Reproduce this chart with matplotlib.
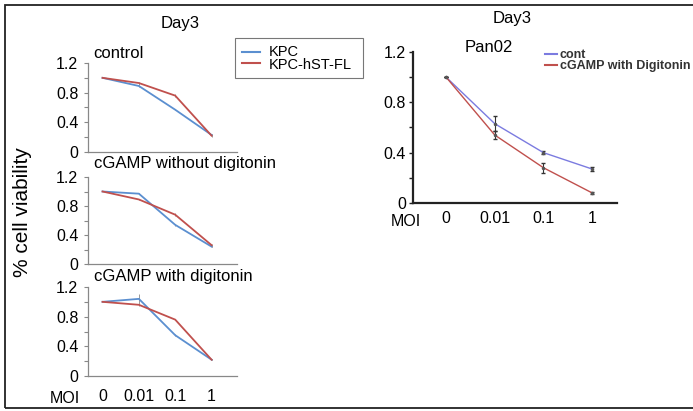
import matplotlib
matplotlib.use("Agg")
import matplotlib.pyplot as plt
from matplotlib.patches import Rectangle
from matplotlib.lines import Line2D

plt.rcParams['font.family'] = ['Liberation Sans', 'DejaVu Sans']

# data
moi = ["0", "0.01", "0.1", "1"]
control_kpc = [1.0, 0.89, 0.57, 0.23]
control_hst = [1.0, 0.93, 0.76, 0.22]
control_kpc_err = [0.0, 0.01, 0.01, 0.01]
control_hst_err = [0.0, 0.02, 0.02, 0.02]
nodig_kpc = [1.0, 0.97, 0.54, 0.24]
nodig_hst = [1.0, 0.89, 0.68, 0.26]
nodig_kpc_err = [0.0, 0.01, 0.01, 0.01]
nodig_hst_err = [0.0, 0.01, 0.02, 0.02]
dig_kpc = [1.0, 1.04, 0.55, 0.22]
dig_hst = [1.0, 0.96, 0.76, 0.22]
dig_kpc_err = [0.0, 0.07, 0.01, 0.01]
dig_hst_err = [0.0, 0.01, 0.01, 0.01]
pan_cont = [1.0, 0.63, 0.40, 0.27]
pan_cont_err = [0.0, 0.06, 0.01, 0.015]
pan_dig = [1.0, 0.54, 0.28, 0.08]
pan_dig_err = [0.0, 0.03, 0.04, 0.005]

W, H = 693, 411
BLUE = '#5b8fd0'
RED = '#c0504d'
LAV = '#7b7be0'


def px(x0, y0, x1, y1):
    return [x0 / W, 1 - y1 / H, (x1 - x0) / W, (y1 - y0) / H]


def fx(x):
    return x / W


def fy(y):
    return 1 - y / H


fig = plt.figure(figsize=(W / 100, H / 100), dpi=100)

# outer frame
fig.add_artist(Rectangle((fx(5), fy(408)), 1.0, fy(5) - fy(408), transform=fig.transFigure,
                         fill=False, edgecolor='#222222', lw=1.3))

xs = list(range(len(moi)))
panels = [
    (63, 152, control_kpc, control_kpc_err, control_hst, control_hst_err),
    (177, 264, nodig_kpc, nodig_kpc_err, nodig_hst, nodig_hst_err),
    (287, 376, dig_kpc, dig_kpc_err, dig_hst, dig_hst_err),
]
for i, (top, bot, kpc, kpc_e, hst, hst_e) in enumerate(panels):
    ax = fig.add_axes(px(88, top, 237, bot))
    ax.errorbar(xs, kpc, yerr=kpc_e, color=BLUE, lw=1.3, ecolor='#999999', elinewidth=0.7, capsize=0)
    ax.errorbar(xs, hst, yerr=hst_e, color=RED, lw=1.3, ecolor='#999999', elinewidth=0.7, capsize=0)
    ax.set_xlim(-0.40, 3.70)
    ax.set_ylim(0, 1.2)
    for s in ['top', 'right']:
        ax.spines[s].set_visible(False)
    for s in ['left', 'bottom']:
        ax.spines[s].set_color('#888888')
        ax.spines[s].set_linewidth(0.9)
    ax.set_yticks([0, 0.4, 0.8, 1.2])
    ax.set_yticklabels(['0', '0.4', '0.8', '1.2'])
    ax.set_yticks([0.2, 0.6, 1.0], minor=True)
    ax.tick_params(axis='y', which='both', direction='out', length=3, width=0.8,
                   color='#888888', labelsize=11.5, pad=4)
    if i == 2:
        ax.set_xticks(xs)
        ax.set_xticklabels(moi)
        ax.tick_params(axis='x', length=0, labelsize=11.5, pad=9)
    else:
        ax.set_xticks([])

fig.text(fx(180), fy(28), 'Day3', fontsize=12, ha='center', va='baseline')
fig.text(fx(93), fy(58), 'control', fontsize=12, ha='left', va='baseline')
fig.text(fx(94), fy(168), 'cGAMP without digitonin', fontsize=12, ha='left', va='baseline')
fig.text(fx(94), fy(281), 'cGAMP with digitonin', fontsize=12, ha='left', va='baseline')
fig.text(fx(65), fy(403), 'MOI', fontsize=11.5, ha='center', va='baseline')
fig.text(fx(23), fy(212), '% cell viability', fontsize=15, rotation=90, ha='center', va='center')

# left legend
fig.add_artist(Rectangle((fx(235), fy(78)), fx(363) - fx(235), fy(38) - fy(78),
                         transform=fig.transFigure, fill=False, edgecolor='#777777', lw=0.8))
fig.add_artist(Line2D([fx(242), fx(260)], [fy(52), fy(52)], transform=fig.transFigure, color=BLUE, lw=1.5))
fig.add_artist(Line2D([fx(242), fx(260)], [fy(63), fy(63)], transform=fig.transFigure, color=RED, lw=1.5))
fig.text(fx(269), fy(56), 'KPC', fontsize=10.5, ha='left', va='baseline')
fig.text(fx(269), fy(69), 'KPC-hST-FL', fontsize=10.5, ha='left', va='baseline')

# right panel
ax = fig.add_axes(px(413, 52, 617, 203))
ax.errorbar(xs, pan_cont, yerr=pan_cont_err, color=LAV, lw=1.0, ecolor='#333333',
            elinewidth=0.8, capsize=1.5, marker='o', ms=1.5, mfc='#555555', mec='#555555')
ax.errorbar(xs, pan_dig, yerr=pan_dig_err, color=RED, lw=1.0, ecolor='#333333',
            elinewidth=0.8, capsize=1.5, marker='o', ms=1.5, mfc='#555555', mec='#555555')
ax.set_xlim(-0.68, 3.51)
ax.set_ylim(0, 1.2)
for s in ['top', 'right']:
    ax.spines[s].set_visible(False)
for s in ['left', 'bottom']:
    ax.spines[s].set_color('#222222')
    ax.spines[s].set_linewidth(1.6)
ax.set_yticks([0, 0.4, 0.8, 1.2])
ax.set_yticklabels(['0', '0.4', '0.8', '1.2'])
ax.set_yticks([0.2, 0.6, 1.0], minor=True)
ax.tick_params(axis='y', which='both', direction='out', length=3, width=1.0,
               color='#222222', labelsize=11.5, pad=2)
ax.set_xticks(xs)
ax.set_xticklabels(moi)
ax.tick_params(axis='x', length=0, labelsize=11.5, pad=6)

fig.text(fx(512), fy(23), 'Day3', fontsize=12, ha='center', va='baseline')
fig.text(fx(489), fy(52), 'Pan02', fontsize=12, ha='center', va='baseline')
fig.text(fx(406), fy(226), 'MOI', fontsize=11.5, ha='center', va='baseline')

# right legend
fig.add_artist(Line2D([fx(545), fx(557)], [fy(54), fy(54)], transform=fig.transFigure, color=LAV, lw=1.5))
fig.add_artist(Line2D([fx(545), fx(557)], [fy(65), fy(65)], transform=fig.transFigure, color=RED, lw=1.5))
fig.text(fx(560), fy(58), 'cont', fontsize=9, fontweight='bold', color='#333333', ha='left', va='baseline')
fig.text(fx(560), fy(69), 'cGAMP with Digitonin', fontsize=9, fontweight='bold', color='#333333',
         ha='left', va='baseline')

fig.savefig('out.png', dpi=100)
